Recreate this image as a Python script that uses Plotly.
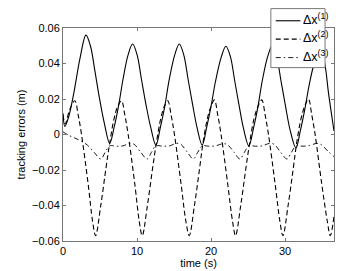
import plotly.graph_objects as go

# Δx(1) solid
x1_t = [0.0, 0.25, 0.7, 1.4, 2.3, 3.1, 3.7, 4.3, 4.9, 5.6, 6.3,
        6.9, 7.5, 8.1, 8.8, 9.4, 10.0, 10.6, 11.2, 11.85, 12.55,
        13.15, 13.75, 14.35, 15.1, 15.7, 16.3, 16.9, 17.5, 18.1, 18.8,
        19.4, 20.0, 20.6, 21.4, 22.0, 22.6, 23.2, 23.8, 24.4, 25.1,
        25.7, 26.3, 26.9, 27.65, 28.25, 28.85, 29.45, 30.05, 30.7, 31.45,
        32.05, 32.65, 33.25, 33.9, 34.6, 35.3, 35.9, 36.6]
x1_v = [0.012, 0.0045, 0.009, 0.022, 0.043, 0.056, 0.050, 0.036, 0.021, 0.006, -0.005,
        0.004, 0.016, 0.031, 0.045, 0.051, 0.045, 0.031, 0.017, 0.004, -0.006,
        0.004, 0.016, 0.031, 0.045, 0.051, 0.045, 0.031, 0.017, 0.004, -0.006,
        0.004, 0.016, 0.030, 0.044, 0.0497, 0.044, 0.030, 0.016, 0.003, -0.0065,
        0.003, 0.015, 0.030, 0.044, 0.050, 0.044, 0.030, 0.016, 0.002, -0.0075,
        0.002, 0.014, 0.028, 0.040, 0.050, 0.041, 0.022, 0.002]

# Δx(2) dashed
x2_t = [0.0, 0.3, 0.9, 1.6, 2.05, 2.5, 3.4, 4.0, 4.4, 5.1, 5.8, 6.3, 6.9, 7.4,
        7.9, 8.35, 8.8, 9.7, 10.3, 10.7, 11.4, 12.1, 12.6, 13.2, 13.7,
        14.15, 14.6, 15.05, 15.95, 16.6, 17.05, 17.75, 18.45, 18.9, 19.5, 20.0,
        20.45, 20.9, 21.35, 22.25, 22.9, 23.3, 24.0, 24.7, 25.2, 25.8, 26.35,
        26.85, 27.3, 27.75, 28.65, 29.3, 29.7, 30.4, 31.1, 31.55, 32.15, 32.65,
        33.15, 33.6, 34.05, 34.95, 35.7, 36.1, 36.6]
x2_v = [0.011, 0.006, 0.014, 0.019, 0.011, 0.0, -0.028, -0.049, -0.057, -0.040, -0.019, -0.005, 0.009, 0.016,
        0.019, 0.011, 0.0, -0.028, -0.049, -0.057, -0.040, -0.019, -0.005, 0.009, 0.016,
        0.019, 0.011, 0.0, -0.028, -0.049, -0.057, -0.040, -0.019, -0.005, 0.009, 0.016,
        0.0195, 0.011, 0.0, -0.028, -0.049, -0.057, -0.040, -0.019, -0.005, 0.009, 0.016,
        0.0195, 0.011, 0.0, -0.028, -0.049, -0.057, -0.040, -0.019, -0.005, 0.009, 0.016,
        0.020, 0.011, 0.0, -0.028, -0.049, -0.057, -0.046]

# Δx(3) dash-dot
x3_t = [0.0, 0.8, 1.6, 2.5, 3.3, 4.2, 5.1, 5.7, 6.3, 7.2, 8.1, 9.0, 9.6, 10.5,
        11.35, 11.95, 12.55, 13.5, 14.4, 15.3, 15.9, 16.8, 17.6, 18.2, 18.8,
        19.7, 20.6, 21.6, 22.2, 23.1, 23.9, 24.5, 25.1, 26.0, 26.9, 27.9, 28.5,
        29.4, 30.25, 30.85, 31.45, 32.4, 33.3, 34.3, 34.9, 35.8, 36.6]
x3_v = [0.0015, -0.0005, -0.002, -0.0038, -0.006, -0.010, -0.0138, -0.010, -0.0064, -0.0066, -0.0064, -0.005, -0.0055, -0.010,
        -0.0138, -0.010, -0.0064, -0.0066, -0.0064, -0.005, -0.0055, -0.010, -0.0138, -0.010, -0.0064,
        -0.0066, -0.0064, -0.0052, -0.0057, -0.010, -0.0138, -0.010, -0.0064, -0.0066, -0.0064, -0.005, -0.0055,
        -0.010, -0.0138, -0.010, -0.0066, -0.0066, -0.0062, -0.005, -0.0058, -0.0095, -0.0125]

names = ["Δx<sup>(1)</sup>", "Δx<sup>(2)</sup>", "Δx<sup>(3)</sup>"]
dashes = ["solid", "5px,3px", "5px,3px,1.5px,3px"]
widths = [1.1, 1.1, 0.9]
x_ticks = [0, 10, 20, 30]
y_ticks = [-0.06, -0.04, -0.02, 0, 0.02, 0.04, 0.06]
y_tick_text = ["−0.06", "−0.04", "−0.02", "0", "0.02", "0.04", "0.06"]

FONT = "Liberation Sans, Arial, sans-serif"
AX = "#777"

fig = go.Figure()
for t, v, nm, d, w in zip([x1_t, x2_t, x3_t], [x1_v, x2_v, x3_v], names, dashes, widths):
    fig.add_trace(go.Scatter(x=t, y=v, mode="lines", name=nm, showlegend=False,
                             line=dict(color="black", width=w, shape="spline", dash=d)))

# compact legend box (MATLAB style), positioned in paper units
L_X0, L_X1, L_Y0, L_Y1 = 0.767, 0.967, 0.814, 1.091
SAMPLE_X0, SAMPLE_X1, TEXT_X = 0.785, 0.876, 0.880
ROW_Y = [1.034, 0.948, 0.861]

shapes = [dict(type="rect", xref="paper", yref="paper", x0=L_X0, x1=L_X1, y0=L_Y0, y1=L_Y1,
               line=dict(color=AX, width=1), fillcolor="white", layer="above")]
annotations = []
for nm, d, w, ry in zip(names, dashes, widths, ROW_Y):
    shapes.append(dict(type="line", xref="paper", yref="paper", x0=SAMPLE_X0, x1=SAMPLE_X1,
                       y0=ry, y1=ry, line=dict(color="black", width=w, dash=d), layer="above"))
    annotations.append(dict(text=nm, xref="paper", yref="paper", x=TEXT_X, y=ry,
                            xanchor="left", yanchor="middle", showarrow=False, yshift=2,
                            font=dict(family=FONT, size=12.5, color="black")))

axis_common = dict(showline=True, linecolor=AX, linewidth=1, mirror="ticks",
                   ticks="inside", ticklen=3, tickcolor=AX, showgrid=False,
                   zeroline=False, tickfont=dict(family=FONT, size=11, color="black"))

fig.update_layout(
    width=360, height=271,
    margin=dict(l=51, r=34, t=20, b=31),
    paper_bgcolor="white", plot_bgcolor="white",
    font=dict(family=FONT, size=11, color="black"),
    showlegend=False,
    shapes=shapes,
    annotations=annotations,
    xaxis=dict(range=[0, 36.6], tickvals=x_ticks,
               title=dict(text="time (s)", font=dict(family=FONT, size=11), standoff=2),
               **axis_common),
    yaxis=dict(range=[-0.06, 0.06], tickvals=y_ticks, ticktext=y_tick_text,
               title=dict(text="tracking errors (m)", font=dict(family=FONT, size=11), standoff=4),
               **axis_common),
)

fig.write_html("out.html")
